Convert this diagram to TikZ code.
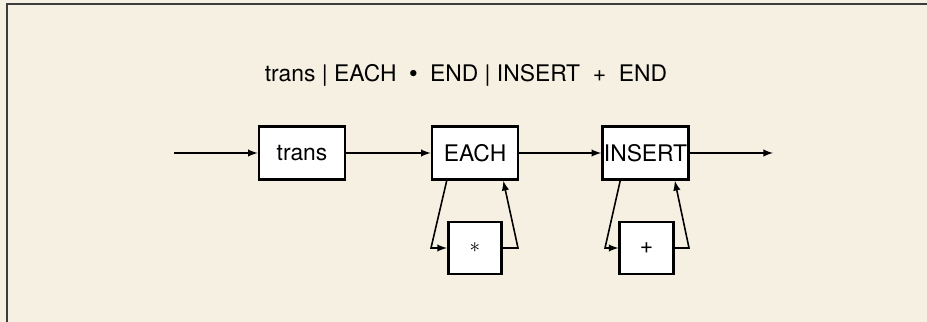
\documentclass[tikz,border=0pt]{standalone}
\usepackage{fontspec}
\setmainfont{TeX Gyre Heros}
\usepackage{tikz}
\usepackage{xcolor}
\definecolor{papercolor}{RGB}{245,240,225}
\definecolor{framecolor}{RGB}{60,60,60}
\tikzset{
  synbox/.style={draw, line width=1.5pt, fill=white, minimum width=1.72cm, minimum height=1.06cm, inner sep=0pt},
  loopbox/.style={draw, line width=1.5pt, fill=white, minimum width=1.07cm, minimum height=1.04cm, inner sep=0pt},
  flow/.style={->, line width=0.9pt}
}

\begin{document}
\begin{tikzpicture}[>=latex, font=\fontsize{13}{15}\selectfont]
            % Paper and frame
            \fill[papercolor] (0,0) rectangle (18.54,6.44);
            \useasboundingbox (0,0) rectangle (18.54,6.44);
            \draw[framecolor, line width=1pt] (0.14,0) -- (0.14,6.36) -- (18.54,6.36);
            
            % Syntax line
            \node[anchor=base] (syntax) at (9.32,4.8) {trans \textbar{} EACH \ \raisebox{0.35ex}{$\scriptstyle\bullet$} \ END \textbar{} INSERT \ + \ END};
            
            % Main path
            \coordinate (start) at (3.48,3.38);
            \node[synbox] (trans) at (6.04,3.38) {trans};
            \node[synbox] (each) at (9.5,3.38) {EACH};
            \node[synbox] (insert) at (12.91,3.38) {INSERT};
            \coordinate (finish) at (15.46,3.38);
            
            % Repeat boxes
            \node[loopbox] (star) at (9.5,1.48) {$\ast$};
            \node[loopbox] (plus) at (12.93,1.48) {+};
            \coordinate (eachL) at (8.62,1.48);
            \coordinate (eachR) at (10.36,1.48);
            \coordinate (insertL) at (12.1,1.48);
            \coordinate (insertR) at (13.78,1.48);
            
            % Arrows
            \draw[flow] (start) -- (trans);
            \draw[flow] (trans) -- (each);
            \draw[flow] (each) -- (insert);
            \draw[flow] (insert) -- (finish);
            \draw[flow] ([xshift=0.32cm]each.south west) -- (eachL) -- (star.west);
            \draw[flow] (star.east) -- (eachR) -- ([xshift=-0.32cm]each.south east);
            \draw[flow] ([xshift=0.38cm]insert.south west) -- (insertL) -- (plus.west);
            \draw[flow] (plus.east) -- (insertR) -- ([xshift=-0.3cm]insert.south east);
        \end{tikzpicture}
\end{document}
